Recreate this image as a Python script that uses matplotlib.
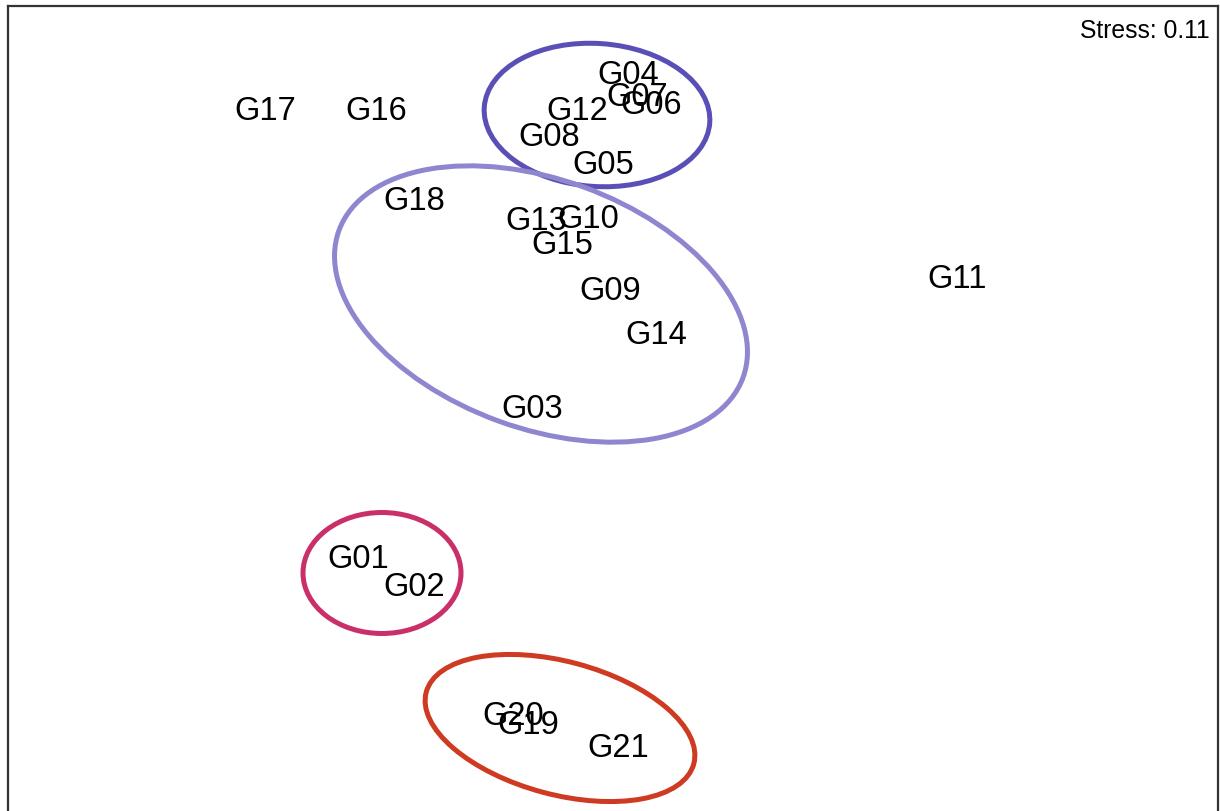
import matplotlib
matplotlib.use('Agg')
import matplotlib.pyplot as plt
from matplotlib.patches import Ellipse

# NMDS site scores (plot units)
sites = ['G17', 'G16', 'G04', 'G07', 'G06', 'G12', 'G08', 'G05', 'G18', 'G13',
         'G10', 'G15', 'G09', 'G14', 'G11', 'G03', 'G01', 'G02', 'G20', 'G19', 'G21']
nmds1 = [265, 376, 628, 637, 651, 577, 549, 603, 414, 536,
         588, 562, 610, 656, 957, 532, 358, 414, 513, 528, 618]
nmds2 = [700, 700, 736, 714, 707, 700, 675, 647, 611, 591,
         592, 567, 520, 476, 532, 403, 252, 224, 95, 86, 63]

# group ellipses: centre x, centre y, width, height, angle, colour
ell_x = [597, 541, 382, 560]
ell_y = [696, 507, 238, 83]
ell_w = [226, 430, 158, 277]
ell_h = [143, 249, 121, 133]
ell_angle = [-4, -20, 0, -15]
ell_colors = ['#5a4fb6', '#8f86d0', '#c9306a', '#cf3a22']

stress = 0.11

plt.rcParams['font.family'] = ['Liberation Sans', 'DejaVu Sans']

fig = plt.figure(figsize=(12.2, 8.12), dpi=100)
ax = fig.add_axes([8 / 1220, -6 / 812, 1210 / 1220, 811 / 812])
ax.set_xlim(8, 1218)
ax.set_ylim(-6, 805)

for x, y, w, h, a, c in zip(ell_x, ell_y, ell_w, ell_h, ell_angle, ell_colors):
    ax.add_patch(Ellipse((x, y), w, h, angle=a, fill=False, edgecolor=c, linewidth=3.6))

for name, x, y in zip(sites, nmds1, nmds2):
    ax.text(x, y, name, fontsize=23.5, ha='center', va='center', color='black')

ax.text(0.993, 0.985, f'Stress: {stress}', transform=ax.transAxes,
        fontsize=17.8, ha='right', va='top')

ax.set_xticks([])
ax.set_yticks([])
for side in ['left', 'top', 'right']:
    ax.spines[side].set_linewidth(1.6)
    ax.spines[side].set_color('#333333')
ax.spines['bottom'].set_visible(False)

fig.savefig('out.png', dpi=100)
